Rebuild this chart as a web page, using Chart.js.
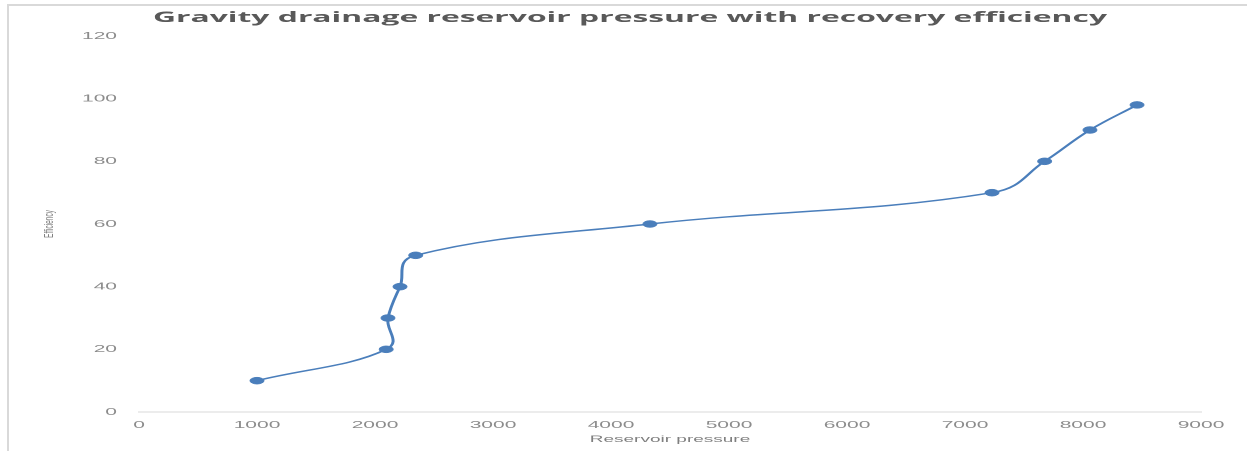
<!DOCTYPE html>
<html>
<head>
<meta charset="utf-8">
<script src="https://cdn.jsdelivr.net/npm/chart.js@4.4.0/dist/chart.umd.min.js"></script>
<style>
  html, body { margin: 0; padding: 0; background: #fff; overflow: hidden; }
  #frame {
    position: absolute; left: 7px; top: 4px; width: 1260px; height: 460px;
    border-left: 2px solid #d9d9d9; border-top: 2px solid #d9d9d9;
  }
  #wrap { position: absolute; left: 0; top: 0; width: 1247px; height: 451px; overflow: hidden; }
  /* the source picture is squashed vertically, so draw tall and scale down */
  #pressure-chart { transform: scaleY(0.5); transform-origin: 0 0; }
</style>
</head>
<body>
<div id="frame"></div>
<div id="wrap">
  <canvas id="pressure-chart" width="1247" height="902"></canvas>
</div>
<script>
// Reservoir pressure vs recovery efficiency
const pressures = [1000, 2095, 2110, 2212, 2345, 4330, 7229, 7675, 8059, 8458];
const efficiency = [10, 20, 30, 40, 50, 60, 70, 80, 90, 98];
const xTicks = [0, 1000, 2000, 3000, 4000, 5000, 6000, 7000, 8000, 9000];
const yTicks = [0, 20, 40, 60, 80, 100, 120];
const chartTitle = "Gravity drainage reservoir pressure with recovery efficiency";

const lineColor = "#4a7ebb";
const tickColor = "#8c8c8c";

// title drawn by hand so it can sit off-centre and be stretched like the source
const wideTitle = {
  id: "wideTitle",
  afterDraw(chart) {
    const c = chart.ctx;
    c.save();
    c.font = "bold 29px 'Open Sans'";
    c.fillStyle = "#595959";
    c.textAlign = "center";
    c.textBaseline = "middle";
    const w = c.measureText(chartTitle).width;
    c.translate(630, 36);
    c.scale(954 / w, 1);
    c.fillText(chartTitle, 0, 0);
    c.restore();
  },
};

const ctx = document.getElementById("pressure-chart").getContext("2d");

new Chart(ctx, {
  type: "scatter",
  data: {
    datasets: [
      {
        label: "Efficiency",
        data: pressures.map((p, i) => ({ x: p, y: efficiency[i] })),
        showLine: true,
        tension: 0.4,
        borderColor: lineColor,
        borderWidth: 3,
        backgroundColor: lineColor,
        pointRadius: 7,
        pointBorderWidth: 1,
        pointBorderColor: lineColor,
      },
    ],
  },
  plugins: [wideTitle],
  options: {
    responsive: false,
    animation: false,
    devicePixelRatio: 1,
    layout: {
      padding: { top: 72, right: 46, bottom: 8, left: 0 },
    },
    plugins: {
      legend: { display: false },
      tooltip: { enabled: false },
      title: { display: false },
    },
    scales: {
      x: {
        type: "linear",
        min: xTicks[0],
        max: xTicks[xTicks.length - 1],
        afterBuildTicks: (scale) => {
          scale.ticks = xTicks.map((v) => ({ value: v }));
        },
        grid: { display: false, drawTicks: false },
        border: { display: true, color: "#d9d9d9", width: 2 },
        ticks: {
          color: tickColor,
          padding: 14,
          maxRotation: 0,
          font: { family: "Liberation Sans", size: 21 },
          callback: (v) => String(v),
        },
        title: {
          display: true,
          text: "Reservoir pressure",
          color: "#7f7f7f",
          font: { family: "Liberation Sans", size: 19 },
          padding: { top: 2, bottom: 4 },
        },
        afterFit: (scale) => {
          scale.height = 70;
        },
      },
      y: {
        type: "linear",
        min: yTicks[0],
        max: yTicks[yTicks.length - 1],
        afterBuildTicks: (scale) => {
          scale.ticks = yTicks.map((v) => ({ value: v }));
        },
        grid: { display: false, drawTicks: false },
        border: { display: false },
        ticks: {
          color: tickColor,
          padding: 22,
          font: { family: "Liberation Sans", size: 21 },
          callback: (v) => String(v),
        },
        title: {
          display: true,
          text: "Efficiency",
          color: "#7f7f7f",
          font: { family: "Liberation Sans", size: 13 },
          padding: { top: 42, bottom: 0 },
        },
        afterFit: (scale) => {
          scale.width = 139;
        },
      },
    },
  },
});
</script>
</body>
</html>
